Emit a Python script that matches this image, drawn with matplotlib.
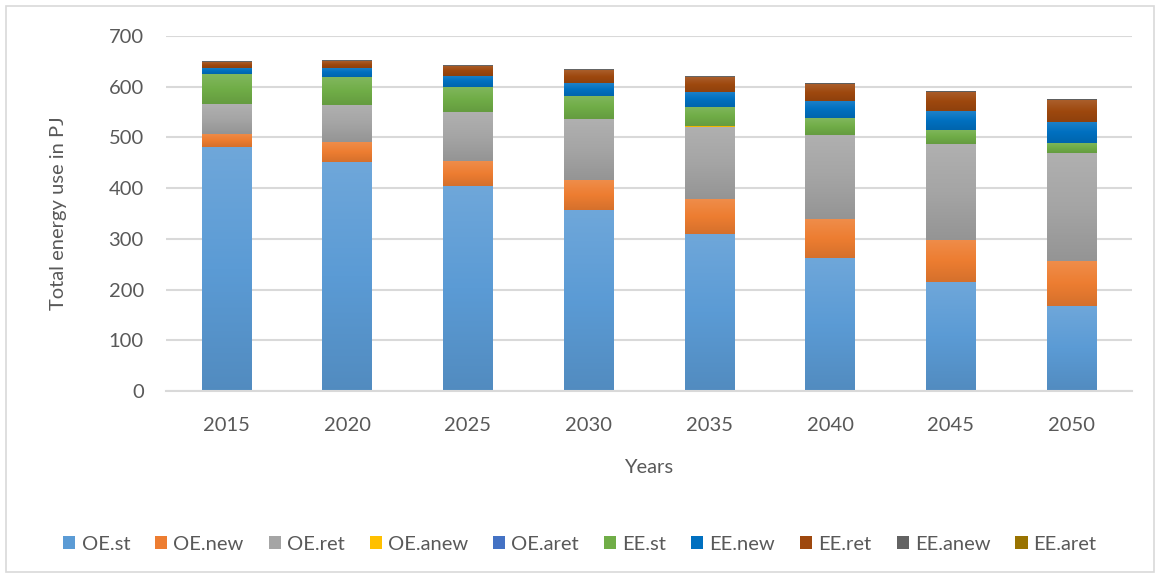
import matplotlib
matplotlib.use("Agg")
import matplotlib.pyplot as plt
import numpy as np
from matplotlib.patches import Rectangle
from matplotlib.colors import LinearSegmentedColormap, to_rgb

years = ["2015", "2020", "2025", "2030", "2035", "2040", "2045", "2050"]
series_names = ["OE.st", "OE.new", "OE.ret", "OE.anew", "OE.aret",
                "EE.st", "EE.new", "EE.ret", "EE.anew", "EE.aret"]

oe_st   = [481, 452, 405, 357, 310, 263, 215, 168]
oe_new  = [26, 39, 48.5, 59, 69, 76, 83, 88]
oe_ret  = [59, 73, 96.5, 120, 142, 166, 189, 213]
oe_anew = [0, 0, 0, 0, 2, 0, 0, 0]
oe_aret = [0, 0, 0, 0, 0, 0, 0, 0]
ee_st   = [59, 55, 49.5, 46, 37.5, 33, 28, 20]
ee_new  = [12.6, 18.5, 22, 25.5, 30, 34, 37, 42]
ee_ret  = [11, 13, 20, 25.5, 29, 33, 37.5, 43]
ee_anew = [1.5, 1.5, 1, 1.5, 1.5, 2, 2, 2]
ee_aret = [0, 0, 0, 0, 0, 0, 0, 0]

data = [oe_st, oe_new, oe_ret, oe_anew, oe_aret, ee_st, ee_new, ee_ret, ee_anew, ee_aret]
colors = ["#5B9BD5", "#ED7D31", "#A5A5A5", "#FFC000", "#4472C4",
          "#70AD47", "#0070C0", "#9E480E", "#636363", "#997300"]

plt.rcParams['font.family'] = ['Lato', 'DejaVu Sans']
txt = "#595959"

fig = plt.figure(figsize=(11.6, 5.78), dpi=100)
ax = fig.add_axes([166/1160, 1 - 391/578, (1132-166)/1160, (391-36)/578])

def shade(c, f):
    r = np.array(to_rgb(c))
    if f > 0:
        return tuple(r + (1 - r) * f)
    return tuple(r * (1 + f))

x = list(range(len(years)))
bottom = [0.0]*len(years)
grad = np.linspace(0, 1, 64).reshape(-1, 1)
for name, vals, c in zip(series_names, data, colors):
    bars = ax.bar(x, vals, width=0.41, bottom=bottom, color=c, label=name, zorder=3, linewidth=0)
    cmap = LinearSegmentedColormap.from_list(name, [shade(c, -0.1), c, shade(c, 0.12)])
    for p in bars.patches:
        h = p.get_height()
        if h <= 0:
            continue
        x0, y0, w = p.get_x(), p.get_y(), p.get_width()
        im = ax.imshow(grad, extent=[x0, x0 + w, y0, y0 + h], origin="lower",
                       cmap=cmap, aspect="auto", zorder=3.2, interpolation="bilinear")
        im.set_clip_path(p)
    bottom = [b + v for b, v in zip(bottom, vals)]

ax.set_xlim(-0.5, len(years) - 0.5)
ax.set_ylim(0, 700)
ax.set_yticks(range(0, 701, 100))
ax.set_xticks(x)
ax.set_xticklabels(years)
ax.yaxis.grid(True, color="#D9D9D9", linewidth=1.5, zorder=0)
for s in ["top", "right", "left"]:
    ax.spines[s].set_visible(False)
ax.spines["bottom"].set_color("#D9D9D9")
ax.spines["bottom"].set_linewidth(1.5)
ax.spines["bottom"].set_zorder(4)
ax.tick_params(axis="both", length=0, labelsize=14.5, colors=txt)
ax.tick_params(axis="x", pad=18.5)
ax.tick_params(axis="y", pad=16)
ax.set_xlabel("Years", fontsize=14.5, color=txt, labelpad=18)
ax.set_ylabel("Total energy use in PJ", fontsize=14.5, color=txt, labelpad=30)

handles, labels = ax.get_legend_handles_labels()
fig.legend(handles, labels, loc="center", bbox_to_anchor=(0.5, 1 - 544/578), ncol=10,
           frameon=False, fontsize=14.5, labelcolor=txt, handlelength=0.6, handleheight=0.6,
           handletextpad=0.3, columnspacing=1.25)

fig.patches.append(Rectangle((6/1160, 6/578), 1 - 12/1160, 1 - 12/578, transform=fig.transFigure,
                             fill=False, edgecolor="#D9D9D9", linewidth=1.2))

fig.savefig("out.png", dpi=100)
